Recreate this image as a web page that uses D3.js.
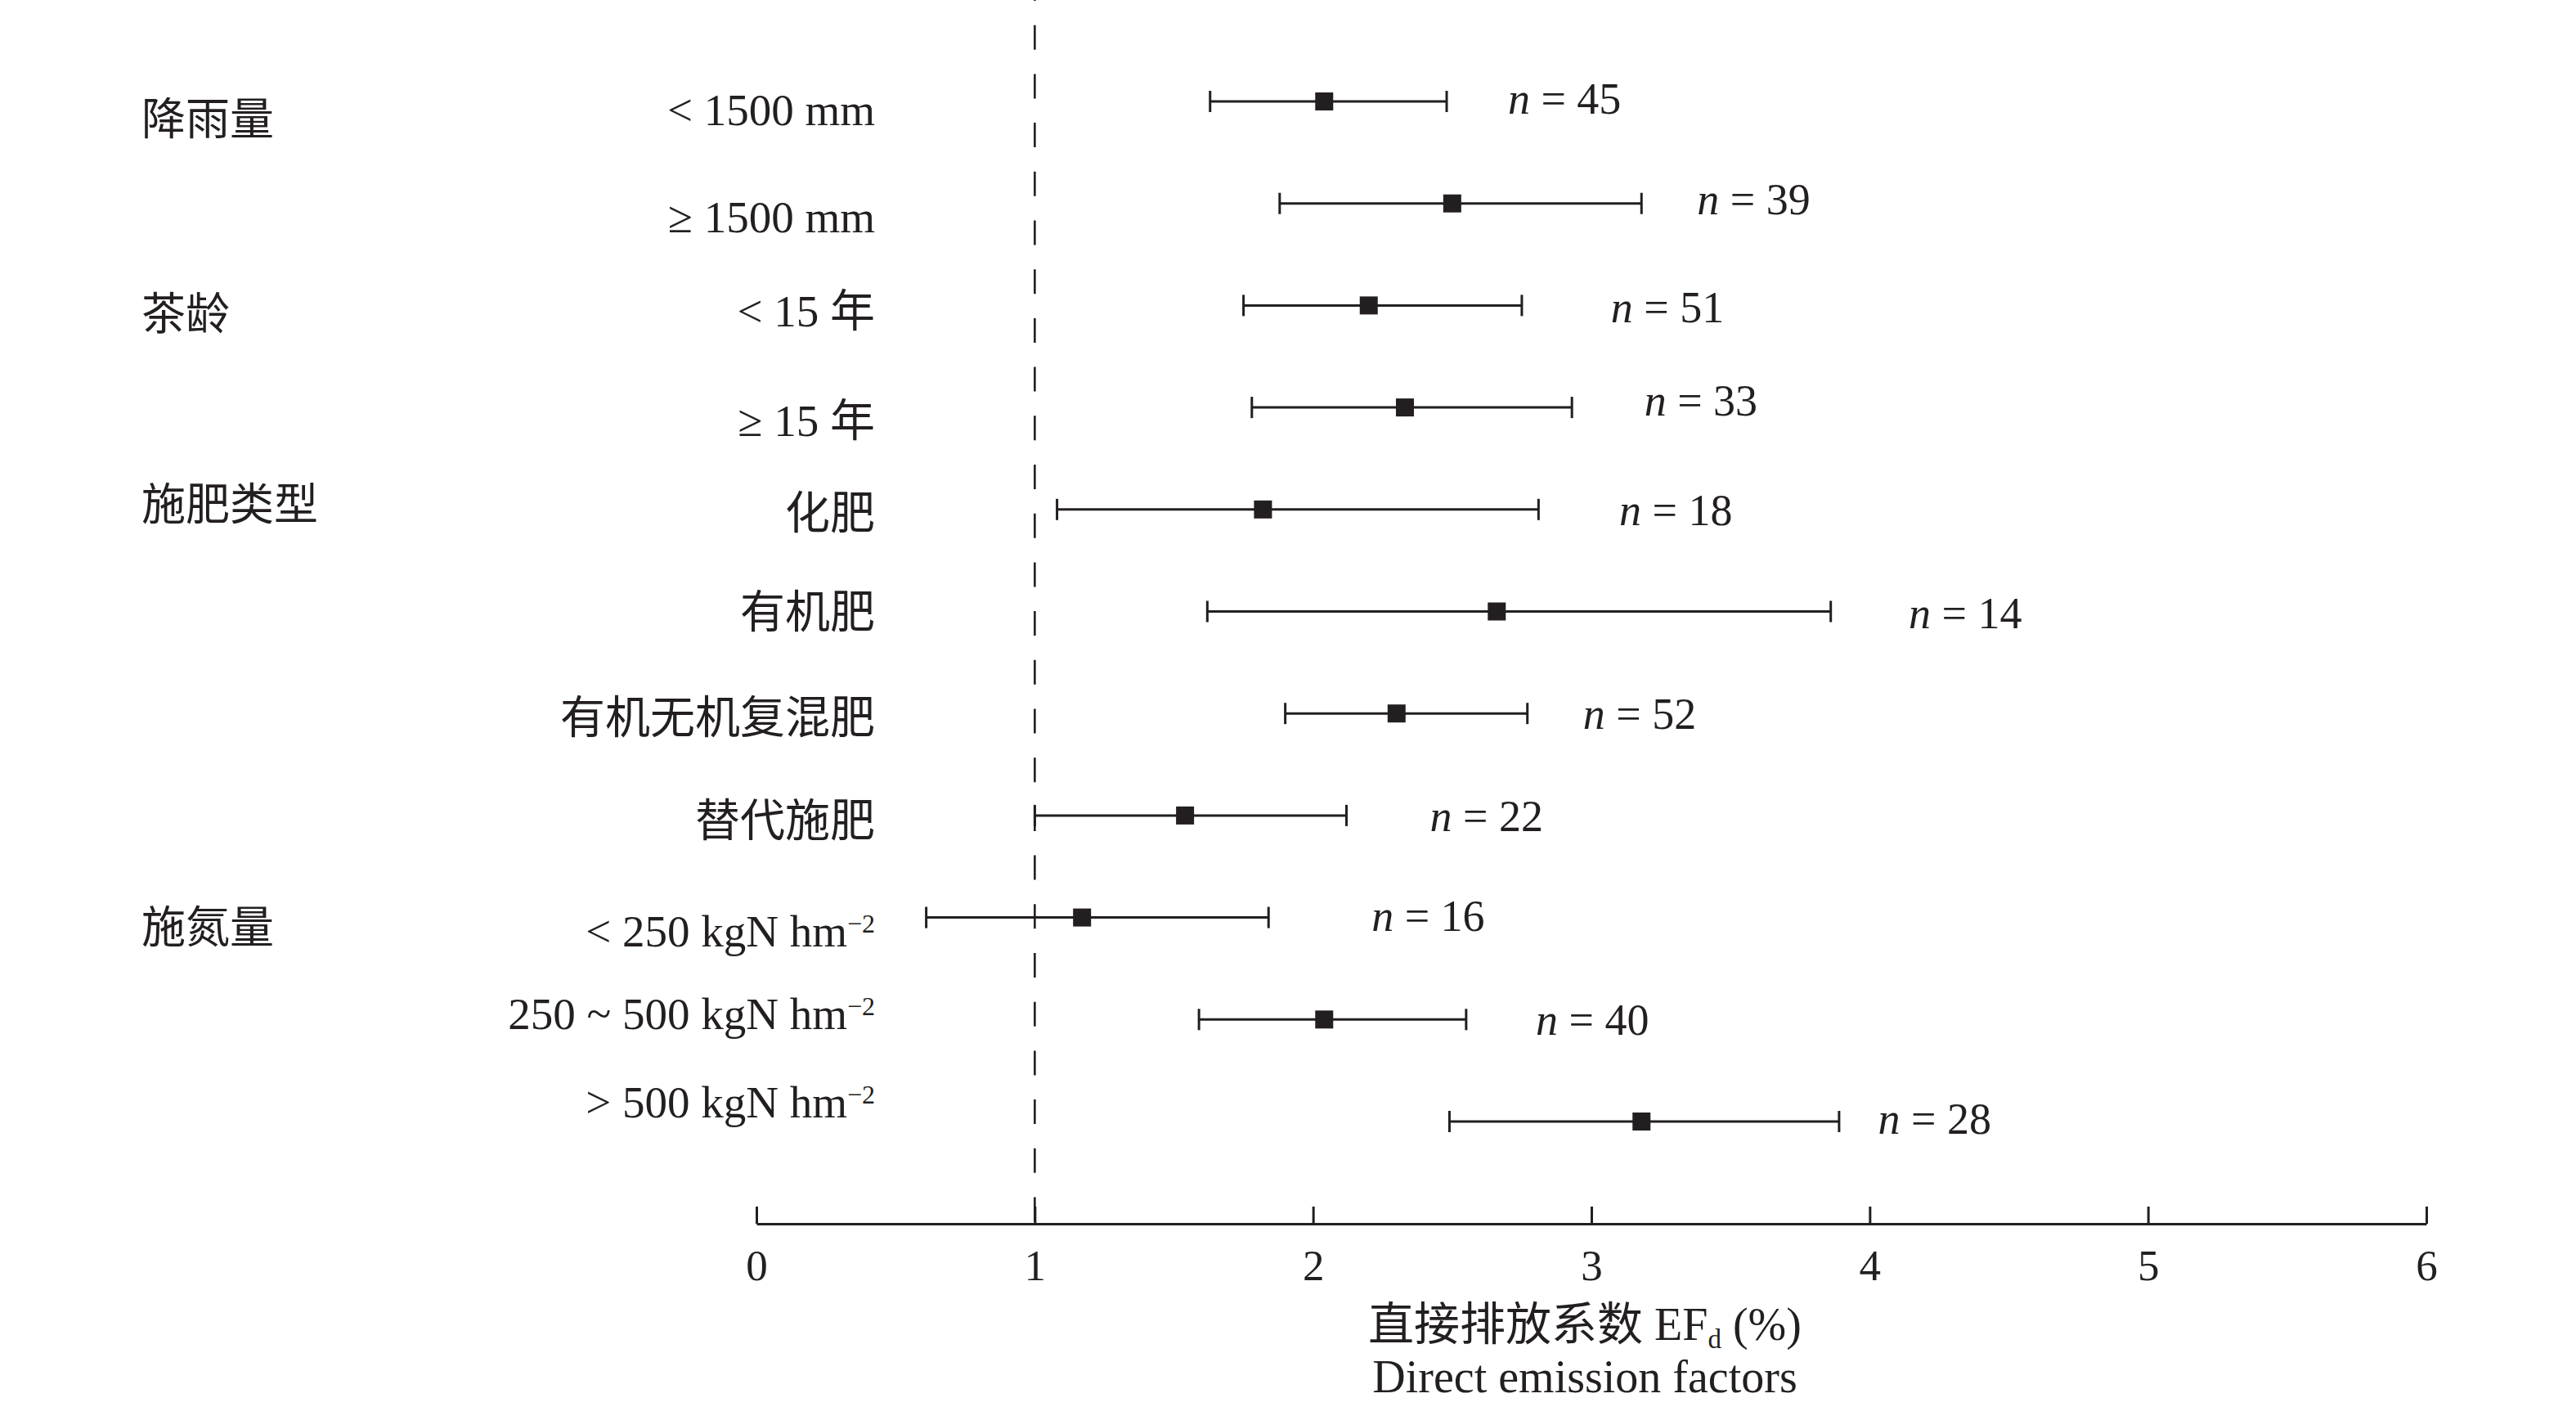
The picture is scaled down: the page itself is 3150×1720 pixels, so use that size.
<!DOCTYPE html>
<html>
<head>
<meta charset="utf-8">
<script src="https://cdn.jsdelivr.net/npm/d3@7"></script>
<style>
  body { margin: 0; background: #fff; }
  text { font-family: "Liberation Serif", "Noto Sans CJK SC", serif; fill: #231f20; }
</style>
</head>
<body>
<script>
// rows, top to bottom
var categories = ["< 1500 mm", "≥ 1500 mm", "< 15 年", "≥ 15 年", "化肥", "有机肥",
    "有机无机复混肥", "替代施肥", "< 250 kgN hm", "250 ~ 500 kgN hm", "> 500 kgN hm"];
var unitPower = ["", "", "", "", "", "", "", "", "−2", "−2", "−2"];
var groups = ["降雨量", "茶龄", "施肥类型", "施氮量"];
var groupFirstRow = [0, 2, 4, 8];

// direct emission factor EFd (%), mean and interval
var meanEF  = [2.04, 2.50, 2.20, 2.33, 1.82, 2.66, 2.30, 1.54, 1.17, 2.04, 3.18];
var lowerEF = [1.63, 1.88, 1.75, 1.78, 1.08, 1.62, 1.90, 1.00, 0.61, 1.59, 2.49];
var upperEF = [2.48, 3.18, 2.75, 2.93, 2.81, 3.86, 2.77, 2.12, 1.84, 2.55, 3.89];
var sampleN = [45, 39, 51, 33, 18, 14, 52, 22, 16, 40, 28];
// where each "n = .." note starts, in EF units
var nLabelAt = [2.70, 3.38, 3.07, 3.19, 3.10, 4.14, 2.97, 2.42, 2.21, 2.80, 4.03];

var xTicks = [0, 1, 2, 3, 4, 5, 6];

// layout
var width = 3150, height = 1720;
var axisY = 1496;
var ink = "#231f20";
// small vertical nudges of the text, as typeset in the original
var labelDy = [10, 16, 6, 16, 4, 0, 5, 6, 16, -8, -24];
var groupDy = [22, 11, -6, 12];
var nDy = [-4, -6, 2, -9, 0, 2, 0, 0, -3, 0, -4];

var svg = d3.select("body")
    .append("svg")
    .attr("width", width)
    .attr("height", height);

var x = d3.scaleLinear()
    .domain([0, 6])
    .range([925, 2967]);

var y = d3.scalePoint()
    .domain(d3.range(categories.length))
    .range([124, 1371]);

// reference line at EFd = 1
svg.append("line")
    .attr("x1", x(1)).attr("x2", x(1))
    .attr("y1", 0).attr("y2", axisY)
    .attr("stroke", ink)
    .attr("stroke-width", 2.6)
    .attr("stroke-dasharray", "30,29.7")
    .attr("stroke-dashoffset", 29);

// x axis
var axis = svg.append("g")
    .attr("transform", "translate(0," + axisY + ")")
    .call(d3.axisBottom(x)
        .tickValues(xTicks)
        .tickFormat(d3.format("d"))
        .tickSizeInner(-21)
        .tickSizeOuter(0)
        .tickPadding(31));
axis.select(".domain").attr("stroke", ink).attr("stroke-width", 3);
axis.selectAll(".tick line").attr("stroke", ink).attr("stroke-width", 3);
axis.selectAll(".tick text").style("font-size", "53px");

// error bars
var rows = svg.append("g")
    .selectAll("g")
    .data(d3.range(categories.length))
    .enter()
    .append("g")
    .attr("transform", function (i) { return "translate(0," + y(i) + ")"; });

rows.append("line")
    .attr("x1", function (i) { return x(lowerEF[i]); })
    .attr("x2", function (i) { return x(upperEF[i]); })
    .attr("stroke", ink)
    .attr("stroke-width", 3);

rows.selectAll(".cap")
    .data(function (i) { return [lowerEF[i], upperEF[i]]; })
    .enter()
    .append("line")
    .attr("class", "cap")
    .attr("x1", function (d) { return x(d); })
    .attr("x2", function (d) { return x(d); })
    .attr("y1", -13).attr("y2", 13)
    .attr("stroke", ink)
    .attr("stroke-width", 3);

rows.append("rect")
    .attr("x", function (i) { return x(meanEF[i]) - 11; })
    .attr("y", -11)
    .attr("width", 22)
    .attr("height", 22)
    .attr("fill", ink);

// n = .. notes
var nText = rows.append("text")
    .attr("x", function (i) { return x(nLabelAt[i]); })
    .attr("y", function (i) { return nDy[i]; })
    .attr("dy", "0.35em")
    .style("font-size", "54px");
nText.append("tspan").style("font-style", "italic").text("n");
nText.append("tspan").text(function (i) { return " = " + sampleN[i]; });

// category labels
var catText = svg.append("g")
    .selectAll("text")
    .data(d3.range(categories.length))
    .enter()
    .append("text")
    .attr("x", 1070)
    .attr("y", function (i) { return y(i) + labelDy[i]; })
    .attr("dy", "0.35em")
    .attr("text-anchor", "end")
    .style("font-size", "55px");
catText.append("tspan").text(function (i) { return categories[i]; });
catText.filter(function (i) { return unitPower[i] !== ""; })
    .append("tspan")
    .attr("dy", -17)
    .style("font-size", "32px")
    .text(function (i) { return unitPower[i]; });

// group labels
svg.append("g")
    .selectAll("text")
    .data(groups)
    .enter()
    .append("text")
    .attr("x", 173)
    .attr("y", function (d, k) { return y(groupFirstRow[k]) + groupDy[k]; })
    .attr("dy", "0.35em")
    .style("font-size", "54px")
    .text(function (d) { return d; });

// axis title
var midX = (x.range()[0] + x.range()[1]) / 2 - 8;
var title = svg.append("text")
    .attr("x", midX)
    .attr("y", 1638)
    .attr("text-anchor", "middle")
    .style("font-size", "56px");
title.append("tspan").text("直接排放系数 EF");
title.append("tspan").attr("dy", 10).style("font-size", "33px").text("d");
title.append("tspan").attr("dy", -10).text(" (%)");

svg.append("text")
    .attr("x", midX)
    .attr("y", 1702)
    .attr("text-anchor", "middle")
    .style("font-size", "56px")
    .text("Direct emission factors");
</script>
</body>
</html>
